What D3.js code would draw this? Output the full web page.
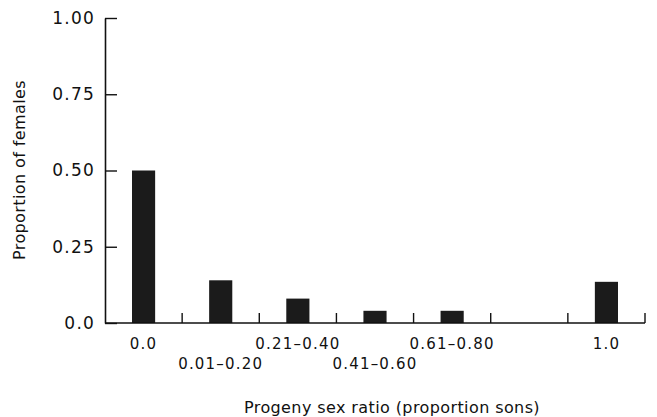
<!DOCTYPE html>
<html>
<head>
<meta charset="utf-8">
<script src="https://cdn.jsdelivr.net/npm/d3@7"></script>
<style>
  html, body { margin: 0; padding: 0; background: #fff; }
  svg { display: block; }
  text { font-family: "DejaVu Sans", sans-serif; fill: #111; }
</style>
</head>
<body>
<svg id="chart" width="657" height="417"></svg>
<script>
// ---- data ----
const categories = ["0.0", "0.01–0.20", "0.21–0.40", "0.41–0.60", "0.61–0.80", "0.81–0.99", "1.0"];
const xTickLabels = ["0.0", "0.01–0.20", "0.21–0.40", "0.41–0.60", "0.61–0.80", "", "1.0"];
const proportionFemales = [0.50, 0.14, 0.08, 0.04, 0.04, 0.0, 0.135];
const yTicks = [0, 0.25, 0.5, 0.75, 1.0];
const yTickLabels = ["0.0", "0.25", "0.50", "0.75", "1.00"];
const xTitle = "Progeny sex ratio (proportion sons)";
const yTitle = "Proportion of females";

// ---- layout ----
const svg = d3.select("#chart");
const plotLeft = 105, plotRight = 645, plotTop = 18, plotBottom = 323;

const x = d3.scaleBand().domain(categories).range([plotLeft, plotRight]).paddingInner(0).paddingOuter(0);
const y = d3.scaleLinear().domain([0, 1]).range([plotBottom, plotTop]);

// y axis (ticks pointing inward)
const yAxis = d3.axisLeft(y)
  .tickValues(yTicks)
  .tickFormat((d, i) => yTickLabels[i])
  .tickSizeInner(-12)
  .tickSizeOuter(0)
  .tickPadding(10);

const gy = svg.append("g").attr("transform", `translate(${plotLeft},0)`).call(yAxis);
gy.select(".domain").attr("stroke", "#111").attr("stroke-width", 1.6);
gy.selectAll(".tick line").attr("stroke", "#111").attr("stroke-width", 1.4);
gy.selectAll(".tick text")
  .attr("font-size", 17)
  .attr("letter-spacing", 1.2)
  .attr("fill", "#111")
  .attr("font-family", "DejaVu Sans, sans-serif");

// bars
const barW = x.bandwidth() * 0.3;
svg.append("g").selectAll("rect")
  .data(categories.map((c, i) => ({ c, v: proportionFemales[i] })))
  .join("rect")
  .attr("x", d => x(d.c) + x.bandwidth() / 2 - barW / 2)
  .attr("width", barW)
  .attr("y", d => y(d.v))
  .attr("height", d => y(0) - y(d.v))
  .attr("fill", "#1b1b1b");

// x axis baseline
svg.append("line")
  .attr("x1", plotLeft).attr("x2", plotRight)
  .attr("y1", y(0)).attr("y2", y(0))
  .attr("stroke", "#111").attr("stroke-width", 1.6);

// x ticks at band boundaries, pointing up
const boundaries = categories.slice(1).map(c => x(c)).concat([x.range()[1]]);
svg.append("g").selectAll("line")
  .data(boundaries)
  .join("line")
  .attr("x1", d => d).attr("x2", d => d)
  .attr("y1", y(0)).attr("y2", y(0) - 10)
  .attr("stroke", "#111").attr("stroke-width", 1.4);

// x category labels, staggered in two rows
svg.append("g").selectAll("text")
  .data(categories.map((c, i) => ({ c, i, label: xTickLabels[i] })))
  .join("text")
  .attr("x", d => x(d.c) + x.bandwidth() / 2)
  .attr("y", d => d.i % 2 === 0 ? 349 : 369)
  .attr("text-anchor", "middle")
  .attr("font-size", 15)
  .attr("letter-spacing", 1.2)
  .text(d => d.label);

// axis titles
svg.append("text")
  .attr("x", 392).attr("y", 413)
  .attr("text-anchor", "middle")
  .attr("font-size", 16)
  .attr("letter-spacing", 0.4)
  .text(xTitle);

svg.append("text")
  .attr("transform", `translate(25,170) rotate(-90)`)
  .attr("text-anchor", "middle")
  .attr("font-size", 16)
  .attr("letter-spacing", 0.4)
  .text(yTitle);
</script>
</body>
</html>
